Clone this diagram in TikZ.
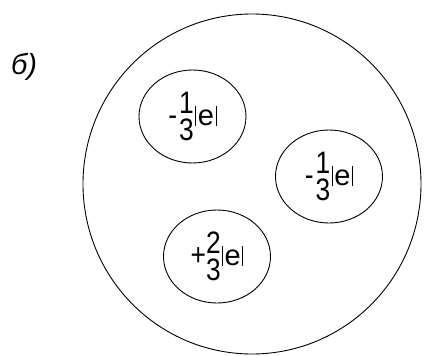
\documentclass[tikz,border=0pt]{standalone}
\usepackage{fontspec}
\setmainfont{Liberation Sans}
\newfontfamily\quarkfont{Liberation Sans}[FakeStretch=0.85]
\usetikzlibrary{shapes.geometric}
\newcommand{\qfrac}[2]{\raisebox{3pt}{$\vcenter{\hbox{\vbox{\offinterlineskip\halign{\hfil##\hfil\cr #1\cr\noalign{\kern5pt}#2\cr}}}}$}}
\newcommand{\abse}{\kern1.5pt\rule{1pt}{20pt}\kern1.5pt{\fontsize{29}{30}\selectfont\rmfamily e}\kern1.5pt\rule{1pt}{20pt}}
\begin{document}
\begin{tikzpicture}[x=1pt, y=-1pt, line width=0.9pt,
  quark/.style={draw, ellipse, minimum width=107pt, minimum height=93pt, inner sep=0pt, font=\quarkfont\fontsize{31}{33}\selectfont}]
\useasboundingbox (0,0) rectangle (424,356);
\node[draw, ellipse, minimum width=338pt, minimum height=340pt] (proton) at (252,184) {};
\node[quark] (q1) at (192.5,116.5) {-\kern2pt\qfrac{1}{3}\abse};
\node[quark] (q2) at (329,176.5) {-\kern2pt\qfrac{1}{3}\abse};
\node[quark] (q3) at (217,256.5) {+\qfrac{2}{3}\abse};
\node[font=\fontsize{29}{32}\selectfont\itshape] (lbl) at (24,67) {б)};
\end{tikzpicture}
\end{document}
